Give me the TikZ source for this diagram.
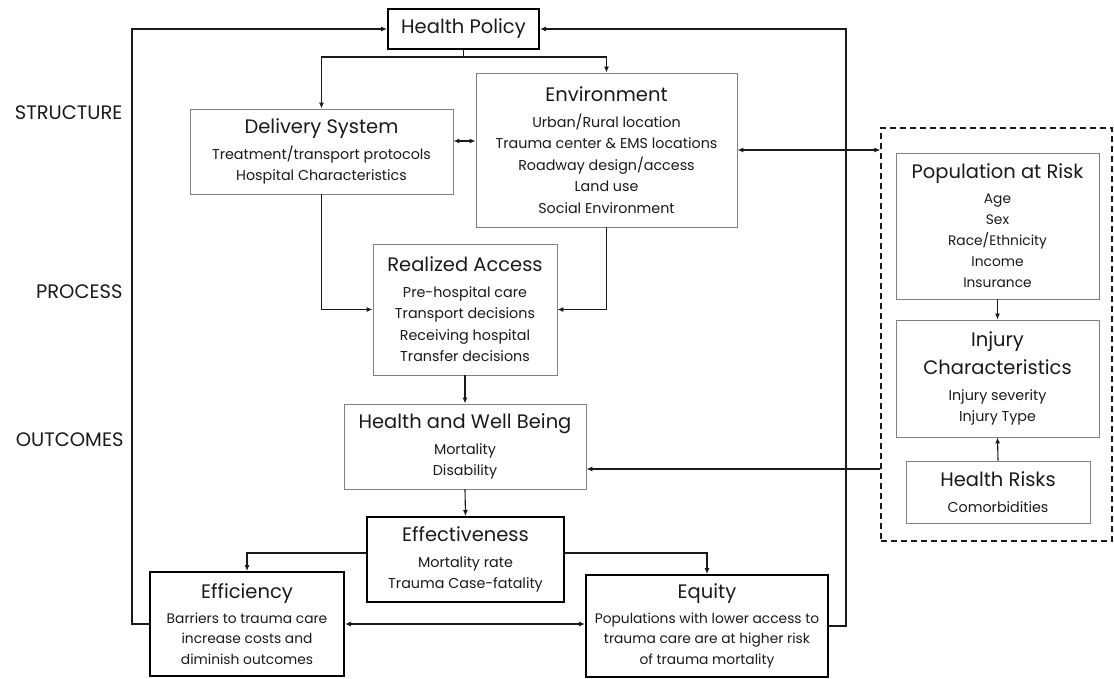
\documentclass[tikz,border=0pt]{standalone}
\usepackage{fontspec}
\setmainfont{Poppins}
\usepackage{tikz}
\usetikzlibrary{arrows.meta,positioning}

\definecolor{ink}{HTML}{1A1A1A}
\tikzset{
	every node/.style={font=\fontsize{14.3}{21.5}\selectfont, text=ink},
	plain/.style={draw=black!50, line width=0.9pt, align=center, inner sep=0pt},
	heavy/.style={draw=black, line width=2pt, align=center, inner sep=0pt},
	conn/.style={draw=ink, line width=1.1pt, -{Latex[length=6pt,width=5pt]}},
	both/.style={draw=ink, line width=1.1pt, {Latex[length=6pt,width=5pt]}-{Latex[length=6pt,width=5pt]}},
	tier/.style={anchor=east, font=\fontsize{19.5}{22}\selectfont},
}
\newcommand{\hd}[1]{{\fontsize{19.5}{21.5}\selectfont #1}\\[4pt]}

\begin{document}
\begin{tikzpicture}[x=1pt,y=-1pt]
	\useasboundingbox (0,0) rectangle (1114,679);

	\node[tier] (structure) at (126,113) {STRUCTURE};
	\node[tier] (process) at (126,292) {PROCESS};
	\node[tier] (outcomes) at (127,440) {OUTCOMES};

	\node[heavy, minimum width=151pt, minimum height=40pt] (policy) at (463.5,29) {{\fontsize{19.5}{20}\selectfont Health Policy}};
	\node[plain, minimum width=263pt, minimum height=85pt] (delivery) at (321.5,151.5)
		{\hd{Delivery System} Treatment/transport protocols\\ Hospital Characteristics};
	\node[plain, minimum width=261pt, minimum height=154pt] (env) at (606.5,150)
		{\hd{Environment} Urban/Rural location\\ Trauma center \& EMS locations\\ Roadway design/access\\ Land use\\ Social Environment};
	\node[plain, minimum width=184pt, minimum height=131pt] (access) at (465,309.5)
		{\hd{Realized Access} Pre-hospital care\\ Transport decisions\\ Receiving hospital\\ Transfer decisions};
	\node[plain, minimum width=242pt, minimum height=85pt] (hwb) at (465,446.5)
		{\hd{Health and Well Being} Mortality\\ Disability};
	\node[heavy, minimum width=197pt, minimum height=85pt] (effect) at (465.5,559.5)
		{\hd{Effectiveness} Mortality rate\\ Trauma Case-fatality};
	\node[heavy, minimum width=194pt, minimum height=104pt, font=\fontsize{13.8}{20.5}\selectfont] (efficiency) at (247,624)
		{\hd{Efficiency} Barriers to trauma care\\ increase costs and\\ diminish outcomes};
	\node[heavy, minimum width=242pt, minimum height=102pt, font=\fontsize{13.8}{20.5}\selectfont] (equity) at (707,626)
		{\hd{Equity} Populations with lower access to\\ trauma care are at higher risk\\ of trauma mortality};

	\node[draw=ink, line width=1.3pt, dash pattern=on 6pt off 4pt, minimum width=231pt, minimum height=413pt] (risk) at (996.5,334.5) {};
	\node[plain, minimum width=203pt, minimum height=146pt, font=\fontsize{13.8}{21}\selectfont] (population) at (997.5,226)
		{\hd{Population at Risk} Age\\ Sex\\ Race/Ethnicity\\ Income\\ Insurance};
	\node[plain, minimum width=203pt, minimum height=117pt] (injury) at (997.5,378.5)
		{{\fontsize{19.5}{21.5}\selectfont Injury}\\[7pt] \hd{Characteristics} Injury severity\\ Injury Type};
	\node[plain, minimum width=184pt, minimum height=62pt] (hrisks) at (998,492)
		{\hd{Health Risks} Comorbidities};

	\coordinate (lvlds) at (0,141);
	\coordinate (lvlef) at (0,553);
	\coordinate (lvlhw) at (0,469);

	\draw[conn] (efficiency.west) -- ++(-17,0) |- (policy.west);
	\draw[conn] (equity.east) -- ++(17,0) |- (policy.east);
	\draw[conn] (policy.south) -- ++(0,7) -| (delivery.north);
	\draw[conn] (policy.south) -- ++(0,7) -| (env.north);
	\draw[both] (delivery.east |- lvlds) -- (env.west |- lvlds);
	\draw[both] (env.east) -- (env.east -| risk.west);
	\draw[conn] (delivery.south) |- (access.west);
	\draw[conn] (env.south) |- (access.east);
	\draw[conn] (access.south) -- (hwb.north);
	\draw[conn] (hwb.south) -- (effect.north);
	\draw[conn] (effect.west |- lvlef) -| (efficiency.north);
	\draw[conn] (effect.east |- lvlef) -| (equity.north);
	\draw[both] (efficiency.east) -- (efficiency.east -| equity.west);
	\draw[conn] (risk.west |- lvlhw) -- (hwb.east |- lvlhw);
	\draw[conn] (population.south) -- (injury.north);
	\draw[conn] (hrisks.north) -- (injury.south);
\end{tikzpicture}
\end{document}
